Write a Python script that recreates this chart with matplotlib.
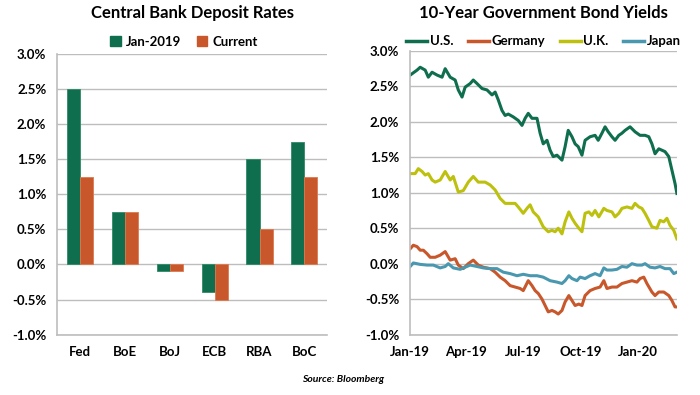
import matplotlib
matplotlib.use("Agg")
import matplotlib.pyplot as plt
import matplotlib.dates as mdates
import numpy as np
import pandas as pd
from matplotlib.patches import Patch
from matplotlib.lines import Line2D

plt.rcParams['font.family'] = ['Lato', 'DejaVu Sans']

# ---- left panel: deposit rates (%) ----
banks = ["Fed", "BoE", "BoJ", "ECB", "RBA", "BoC"]
rate_jan2019 = [2.50, 0.75, -0.10, -0.40, 1.50, 1.75]
rate_current = [1.25, 0.75, -0.10, -0.50, 0.50, 1.25]

# ---- right panel: 10y yields (%), days since 2019-01-01 ----
us_days = [0, 11, 16, 24, 29, 35, 43, 51, 56, 64, 72, 77, 83, 88, 96, 101, 107, 115, 123, 131,
           136, 141, 147, 152, 157, 165, 173, 179, 184, 189, 195, 203, 208, 213, 219, 224, 229,
           235, 243, 248, 253, 259, 264, 269, 275, 280, 288, 296, 301, 307, 312, 317, 323, 328,
           334, 339, 344, 352, 360, 368, 376, 382, 387, 392, 398, 403, 408, 414, 419, 424, 427]
us_yield = [2.66, 2.73, 2.77, 2.73, 2.63, 2.70, 2.66, 2.63, 2.75, 2.63, 2.59, 2.45, 2.35, 2.49,
            2.54, 2.59, 2.54, 2.47, 2.45, 2.38, 2.42, 2.31, 2.16, 2.09, 2.11, 2.07, 2.02, 1.95,
            2.05, 2.12, 2.05, 2.05, 1.84, 1.69, 1.74, 1.60, 1.51, 1.53, 1.46, 1.65, 1.88, 1.79,
            1.69, 1.65, 1.53, 1.74, 1.79, 1.81, 1.74, 1.84, 1.93, 1.86, 1.79, 1.74, 1.81, 1.84,
            1.88, 1.93, 1.86, 1.81, 1.81, 1.79, 1.69, 1.55, 1.62, 1.60, 1.58, 1.51, 1.32, 1.13,
            0.99]

uk_days = [0, 8, 13, 19, 24, 29, 35, 40, 48, 56, 64, 69, 77, 85, 93, 101, 109, 120, 128, 136,
           144, 152, 160, 168, 173, 181, 187, 192, 197, 205, 213, 221, 227, 232, 237, 243, 248,
           254, 259, 264, 270, 275, 280, 286, 291, 296, 302, 310, 315, 323, 328, 334, 339, 347,
           355, 360, 366, 371, 376, 382, 387, 395, 400, 406, 411, 416, 422, 427]
uk_yield = [1.27, 1.27, 1.34, 1.30, 1.25, 1.27, 1.18, 1.15, 1.18, 1.30, 1.18, 1.23, 1.01, 1.03,
            1.15, 1.23, 1.15, 1.15, 1.11, 1.04, 0.92, 0.85, 0.85, 0.85, 0.80, 0.71, 0.78, 0.83,
            0.73, 0.66, 0.52, 0.45, 0.47, 0.45, 0.50, 0.42, 0.59, 0.73, 0.64, 0.57, 0.50, 0.45,
            0.71, 0.73, 0.68, 0.75, 0.66, 0.78, 0.75, 0.73, 0.66, 0.71, 0.78, 0.80, 0.78, 0.85,
            0.80, 0.78, 0.71, 0.61, 0.52, 0.50, 0.61, 0.59, 0.64, 0.54, 0.47, 0.35]

de_days = [0, 5, 11, 16, 21, 27, 32, 40, 48, 56, 64, 72, 77, 85, 93, 101, 109, 117, 128, 136,
           144, 152, 160, 168, 176, 181, 189, 195, 200, 205, 211, 216, 221, 227, 232, 237, 243,
           248, 254, 259, 264, 270, 275, 280, 288, 296, 304, 310, 315, 323, 331, 339, 347, 355,
           363, 368, 374, 379, 387, 392, 398, 406, 414, 419, 424, 427]
de_yield = [0.21, 0.26, 0.24, 0.19, 0.19, 0.14, 0.09, 0.09, 0.12, 0.17, 0.05, 0.07, -0.02, -0.07,
            0.00, 0.05, -0.02, -0.05, -0.07, -0.12, -0.19, -0.24, -0.31, -0.33, -0.35, -0.38,
            -0.24, -0.31, -0.38, -0.42, -0.50, -0.59, -0.68, -0.66, -0.68, -0.71, -0.66, -0.54,
            -0.45, -0.52, -0.59, -0.57, -0.59, -0.45, -0.38, -0.35, -0.33, -0.24, -0.35, -0.33,
            -0.33, -0.28, -0.26, -0.24, -0.26, -0.21, -0.19, -0.28, -0.40, -0.45, -0.40, -0.40,
            -0.45, -0.52, -0.61, -0.61]

jp_days = [0, 5, 16, 27, 37, 48, 56, 61, 69, 80, 88, 96, 107, 117, 128, 139, 149, 160, 171, 181,
           192, 203, 213, 224, 235, 243, 248, 254, 259, 267, 272, 280, 288, 296, 304, 310, 315,
           323, 331, 339, 347, 355, 363, 371, 376, 384, 392, 400, 408, 416, 422, 427]
jp_yield = [-0.04, 0.01, -0.01, -0.02, -0.02, -0.06, -0.04, 0.00, -0.06, -0.08, -0.05, -0.02,
            -0.04, -0.06, -0.07, -0.07, -0.12, -0.14, -0.17, -0.15, -0.17, -0.17, -0.19, -0.24,
            -0.26, -0.28, -0.24, -0.17, -0.21, -0.24, -0.19, -0.21, -0.17, -0.14, -0.17, -0.06,
            -0.09, -0.09, -0.08, -0.04, -0.05, 0.00, -0.02, -0.02, 0.00, -0.05, -0.06, -0.04,
            -0.07, -0.07, -0.14, -0.12]

GREEN = "#0E6E4E"
ORANGE = "#C8572B"
YELLOW = "#BDC10E"
TEAL = "#4A98B0"
GRID = "#BDBDBD"

start = pd.Timestamp("2019-01-01")


def to_dates(days):
    return [start + pd.Timedelta(days=d) for d in days]


def style_axes(ax):
    ax.set_ylim(-1.0, 3.0)
    ax.set_yticks(np.arange(-1.0, 3.01, 0.5))
    ax.set_yticklabels([f"{v:.1f}%" for v in np.arange(-1.0, 3.01, 0.5)])
    ax.grid(axis="y", color=GRID, linewidth=1)
    ax.set_axisbelow(True)
    for s in ["top", "right"]:
        ax.spines[s].set_visible(False)
    for s in ["left", "bottom"]:
        ax.spines[s].set_color(GRID)
        ax.spines[s].set_linewidth(1.2)
    ax.tick_params(length=0, labelsize=9.5, pad=8)
    for lab in ax.get_yticklabels() + ax.get_xticklabels():
        lab.set_fontweight("bold")


fig = plt.figure(figsize=(7.0, 3.95), dpi=100)

# left: bars
ax1 = fig.add_axes([0.082, 0.153, 0.385, 0.71])
x = np.arange(len(banks))
w = 0.29
ax1.bar(x - w / 2, rate_jan2019, w, color=GREEN, edgecolor="#2E8A66", linewidth=0.6)
ax1.bar(x + w / 2, rate_current, w, color=ORANGE, edgecolor="#DC7A50", linewidth=0.6)
ax1.set_xlim(-0.5, len(banks) - 0.5)
ax1.set_xticks(x)
ax1.set_xticklabels(banks)
style_axes(ax1)
ax1.set_title("Central Bank Deposit Rates", fontsize=12, fontweight="bold", pad=26)
ax1.legend(handles=[Patch(color=GREEN, label="Jan-2019"), Patch(color=ORANGE, label="Current")],
           loc="lower center", bbox_to_anchor=(0.47, 1.0), ncol=2, frameon=False,
           prop={"weight": "bold", "size": 9.5}, handlelength=0.8, handleheight=0.8,
           handletextpad=0.4, columnspacing=1.2, borderaxespad=0.1)

# right: lines
ax2 = fig.add_axes([0.586, 0.153, 0.381, 0.718])
ax2.plot(to_dates(us_days), us_yield, color=GREEN, linewidth=2.2)
ax2.plot(to_dates(de_days), de_yield, color=ORANGE, linewidth=2.2)
ax2.plot(to_dates(uk_days), uk_yield, color=YELLOW, linewidth=2.2)
ax2.plot(to_dates(jp_days), jp_yield, color=TEAL, linewidth=2.2)
ax2.set_xlim(start, pd.Timestamp("2020-03-03"))
ax2.set_xticks(pd.to_datetime(["2019-01-01", "2019-04-01", "2019-07-01", "2019-10-01", "2020-01-01"]))
ax2.xaxis.set_major_formatter(mdates.DateFormatter("%b-%y"))
style_axes(ax2)
ax2.set_title("10-Year Government Bond Yields", fontsize=12, fontweight="bold", pad=24)
ax2.legend(handles=[Line2D([], [], color=GREEN, lw=2.5, label="U.S."),
                    Line2D([], [], color=ORANGE, lw=2.5, label="Germany"),
                    Line2D([], [], color=YELLOW, lw=2.5, label="U.K."),
                    Line2D([], [], color=TEAL, lw=2.5, label="Japan")],
           loc="lower center", bbox_to_anchor=(0.5, 0.99), ncol=4, frameon=False,
           prop={"weight": "bold", "size": 9.5}, handlelength=1.6, handletextpad=0.2,
           columnspacing=1.1, borderaxespad=0.1)

fig.text(0.49, 0.04, "Source: Bloomberg", fontsize=7.5, fontweight="bold",
         fontstyle="italic", ha="center", va="center")

fig.savefig("out.png", dpi=100)
